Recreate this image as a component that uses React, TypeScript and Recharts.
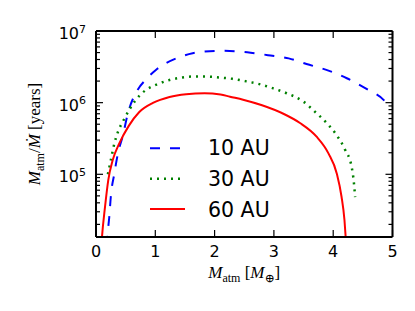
import React from 'react';
import { LineChart, Line, XAxis, YAxis, Legend } from 'recharts';

// ---- data ----
const xTicks = [0, 1, 2, 3, 4, 5];
const yDecades = [1e4, 1e5, 1e6];
const yMultipliers = [1, 2, 3, 4, 5, 6, 7, 8, 9];
const yTop = 1e7;
const yBottom = 13335;

const au10: [number, number][] = [
  [0.19, 1.0e4], [0.2, 1.5e4], [0.225, 2.6e4], [0.25, 4.9e4], [0.31, 1.03e5], [0.37, 1.96e5],
  [0.45, 3.4e5], [0.54, 7.2e5], [0.7, 1.5e6], [0.84, 2.1e6], [1.01, 2.86e6], [1.18, 3.55e6],
  [1.4, 4.3e6], [1.63, 4.9e6], [1.82, 5.15e6], [2.15, 5.3e6], [2.55, 5.05e6], [2.9, 4.6e6],
  [3.25, 4.15e6], [3.55, 3.46e6], [3.92, 2.8e6], [4.23, 2.19e6], [4.57, 1.54e6], [4.88, 1.03e6],
  [4.91, 0.96e6],
];
const au30: [number, number][] = [
  [0.2, 1.0e5], [0.25, 1.58e5], [0.31, 2.7e5], [0.37, 3.9e5], [0.48, 6.0e5], [0.67, 1.09e6],
  [0.84, 1.5e6], [1.01, 1.77e6], [1.24, 2.07e6], [1.46, 2.25e6], [1.69, 2.32e6], [1.95, 2.3e6],
  [2.07, 2.25e6], [2.3, 2.15e6], [2.54, 1.98e6], [2.77, 1.8e6], [2.99, 1.58e6], [3.22, 1.35e6],
  [3.5, 1.03e6], [3.69, 7.5e5], [3.89, 5.2e5], [4.06, 3.5e5], [4.2, 2.2e5], [4.31, 1.28e5],
  [4.35, 7.5e4], [4.37, 4.8e4],
];
const au60: [number, number][] = [
  [0.09, 1.0e4], [0.101, 1.34e4], [0.152, 3.5e4], [0.207, 8.3e4], [0.282, 1.58e5], [0.393, 2.7e5],
  [0.55, 4.7e5], [0.73, 7.4e5], [0.96, 9.9e5], [1.24, 1.2e6], [1.52, 1.31e6], [1.83, 1.35e6],
  [2.1, 1.3e6], [2.26, 1.21e6], [2.48, 1.1e6], [2.8, 9.2e5], [3.16, 7.0e5], [3.44, 5.2e5],
  [3.72, 3.35e5], [3.92, 1.96e5], [4.06, 1.03e5], [4.14, 4.9e4], [4.19, 2.3e4], [4.21, 1.34e4],
  [4.22, 1.0e4],
];

const seriesNames = ['10 AU', '30 AU', '60 AU'];
const seriesData = [au10, au30, au60];
const seriesColors = ['#0000ff', '#008000', '#ff0000'];
const seriesDash = ['10 10', '2 5', undefined];
const seriesWidth = [2, 2.5, 2];

const yTicks = [
  ...yDecades.flatMap((d) => yMultipliers.map((m) => m * d)),
  yTop,
].filter((v) => v >= yBottom && v <= yTop);

const isMajor = (v: number) => Math.abs(Math.log10(v) - Math.round(Math.log10(v))) < 1e-9;

const TICK_FONT = 'DejaVu Sans, sans-serif';
const MATH_FONT = 'Liberation Serif, DejaVu Serif, serif';
const FRAME = { stroke: '#000', strokeWidth: 2 };
const TICK_W = 1.2;

const BottomTick = (props: any) => {
  const { x, y, payload } = props;
  return (
    <g>
      <line x1={x} y1={y} x2={x} y2={y - 7} stroke="#000" strokeWidth={TICK_W} />
      <text x={x} y={y + 20} textAnchor="middle" fontFamily={TICK_FONT} fontSize={16} fill="#000">
        {payload.value}
      </text>
    </g>
  );
};

const TopTick = (props: any) => {
  const { x, y } = props;
  return <line x1={x} y1={y} x2={x} y2={y + 7} stroke="#000" strokeWidth={TICK_W} />;
};

const LeftTick = (props: any) => {
  const { x, y, payload } = props;
  const major = isMajor(payload.value);
  const exp = Math.round(Math.log10(payload.value));
  return (
    <g>
      <line x1={x} y1={y} x2={x + (major ? 7 : 4)} y2={y} stroke="#000" strokeWidth={TICK_W} />
      {major && (
        <text x={x - 10} y={y + 8} textAnchor="end" fontFamily={TICK_FONT} fontSize={16} fill="#000">
          10
          <tspan fontSize={11} dy={-6.5}>{exp}</tspan>
        </text>
      )}
    </g>
  );
};

const RightTick = (props: any) => {
  const { x, y, payload } = props;
  const major = isMajor(payload.value);
  return <line x1={x} y1={y} x2={x - (major ? 7 : 4)} y2={y} stroke="#000" strokeWidth={TICK_W} />;
};

const XTitle = (props: any) => {
  const vb = props.viewBox || { x: 96, y: 237, width: 296, height: 74 };
  const cx = vb.x + vb.width / 2;
  return (
    <text x={cx} y={vb.y + 41} textAnchor="middle" fontFamily={MATH_FONT} fontSize={17} fill="#000">
      <tspan fontStyle="italic">M</tspan>
      <tspan fontSize={12} dy={4}>atm</tspan>
      <tspan dy={-4}>{'\u00a0['}</tspan>
      <tspan fontStyle="italic">M</tspan>
      <tspan fontSize={12} dy={4}>⊕</tspan>
      <tspan dy={-4}>]</tspan>
    </text>
  );
};

const YTitle = (props: any) => {
  const vb = props.viewBox || { x: 0, y: 31, width: 96, height: 206 };
  const cx = vb.x + 40;
  const cy = vb.y + vb.height / 2;
  return (
    <text
      x={cx}
      y={cy}
      transform={`rotate(-90, ${cx}, ${cy})`}
      textAnchor="middle"
      fontFamily={MATH_FONT}
      fontSize={17}
      fill="#000"
    >
      <tspan fontStyle="italic">M</tspan>
      <tspan fontSize={12} dy={4}>atm</tspan>
      <tspan dy={-4}>/</tspan>
      <tspan fontStyle="italic">{'\u1E40'}</tspan>
      <tspan>{'\u00a0[years]'}</tspan>
    </text>
  );
};

const LegendContent = () => (
  <svg width={140} height={90} style={{ display: 'block', overflow: 'visible' }}>
    {seriesNames.map((name, i) => (
      <g key={name}>
        <line
          x1={5}
          x2={40}
          y1={13.3 + i * 30.4}
          y2={13.3 + i * 30.4}
          stroke={seriesColors[i]}
          strokeWidth={seriesWidth[i]}
          strokeDasharray={seriesDash[i]}
        />
        <text x={63} y={20 + i * 30.8} fontFamily={TICK_FONT} fontSize={20.5} fill="#000">
          {name}
        </text>
      </g>
    ))}
  </svg>
);

export default function App() {
  return (
    <div style={{ position: 'absolute', left: 0, top: 0, width: 415, height: 311, background: '#fff' }}>
      <LineChart width={415} height={311} margin={{ top: 30, right: 21.5, bottom: 0, left: 0 }}>
        <XAxis
          xAxisId="b"
          type="number"
          dataKey="x"
          domain={[0, 5]}
          ticks={xTicks}
          interval={0}
          height={74}
          tickSize={0}
          tickMargin={0}
          tickLine={false}
          tick={<BottomTick />}
          axisLine={FRAME}
          allowDataOverflow
          label={<XTitle />}
        />
        <XAxis
          xAxisId="t"
          orientation="top"
          type="number"
          dataKey="x"
          domain={[0, 5]}
          ticks={xTicks}
          interval={0}
          height={1}
          tickSize={0}
          tickMargin={0}
          tickLine={false}
          tick={<TopTick />}
          axisLine={FRAME}
          allowDataOverflow
        />
        <YAxis
          yAxisId="l"
          type="number"
          scale="log"
          domain={[yBottom, yTop]}
          ticks={yTicks}
          interval={0}
          width={96}
          tickSize={0}
          tickMargin={0}
          tickLine={false}
          tick={<LeftTick />}
          axisLine={FRAME}
          allowDataOverflow
          label={<YTitle />}
        />
        <YAxis
          yAxisId="r"
          orientation="right"
          type="number"
          scale="log"
          domain={[yBottom, yTop]}
          ticks={yTicks}
          interval={0}
          width={1}
          tickSize={0}
          tickMargin={0}
          tickLine={false}
          tick={<RightTick />}
          axisLine={FRAME}
          allowDataOverflow
        />
        {seriesNames.map((name, i) => (
          <Line
            key={name}
            name={name}
            xAxisId="b"
            yAxisId="l"
            data={seriesData[i].map(([x, y]) => ({ x, y }))}
            dataKey="y"
            type="monotone"
            stroke={seriesColors[i]}
            strokeWidth={seriesWidth[i]}
            strokeDasharray={seriesDash[i]}
            dot={false}
            activeDot={false}
            isAnimationActive={false}
          />
        ))}
        <Legend
          layout="vertical"
          align="center"
          verticalAlign="middle"
          content={<LegendContent />}
          wrapperStyle={{ position: 'absolute', left: 145, top: 135, width: 140, height: 90 }}
        />
      </LineChart>
    </div>
  );
}
